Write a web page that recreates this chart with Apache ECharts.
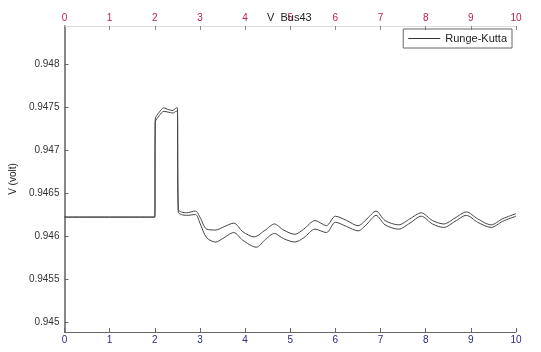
<!DOCTYPE html>
<html><head><meta charset="utf-8">
<script src="https://cdn.jsdelivr.net/npm/echarts@6/dist/echarts.min.js"></script>
<style>html,body{margin:0;padding:0;background:#fff}#c{width:541px;height:352px}</style>
</head><body><div id="c"></div>
<script>
const xTicks = [0,1,2,3,4,5,6,7,8,9,10];
const yTicks = [0.945,0.9455,0.946,0.9465,0.947,0.9475,0.948];
const upperX = [0,2.0,2.01,2.1,2.2,2.3,2.4,2.48,2.5,2.52,2.7,2.9,3.0,3.15,3.35,3.5,3.75,3.95,4.2,4.45,4.65,4.85,5.1,5.3,5.55,5.8,6.0,6.25,6.5,6.7,6.9,7.1,7.4,7.65,7.9,8.15,8.4,8.65,8.9,9.15,9.45,9.7,10];
const upperV = [0.94622,0.94622,0.94736,0.94744,0.94749,0.94747,0.94746,0.94749,0.94749,0.94631,0.94627,0.94629,0.94622,0.94608,0.94607,0.94610,0.94615,0.94605,0.94599,0.94607,0.94614,0.94607,0.94602,0.94608,0.94618,0.94612,0.94623,0.94618,0.94612,0.94620,0.94629,0.94618,0.94613,0.94620,0.94627,0.94618,0.94614,0.94621,0.94628,0.94620,0.94613,0.94620,0.94626];
const lowerX = [0,2.0,2.01,2.1,2.2,2.3,2.4,2.48,2.5,2.52,2.7,2.9,3.0,3.15,3.35,3.5,3.75,3.95,4.25,4.45,4.65,4.85,5.1,5.3,5.55,5.8,6.0,6.25,6.5,6.7,6.9,7.1,7.4,7.65,7.9,8.15,8.4,8.65,8.9,9.15,9.45,9.7,10];
const lowerV = [0.94622,0.94622,0.94732,0.94740,0.94745,0.94744,0.94743,0.94745,0.94745,0.94628,0.94624,0.94625,0.94615,0.94598,0.94593,0.94597,0.94604,0.94595,0.94587,0.94596,0.94603,0.94597,0.94593,0.94598,0.94608,0.94604,0.94616,0.94611,0.94606,0.94614,0.94624,0.94613,0.94608,0.94615,0.94623,0.94614,0.94610,0.94617,0.94624,0.94616,0.94610,0.94617,0.94623];
const legendName = 'Runge-Kutta';

const chart = echarts.init(document.getElementById('c'));
const fmt = v => String(+(+v).toFixed(4));
chart.setOption({
  animation:false,
  backgroundColor:'#fff',
  title:{text:'V  Bus43',left:262,top:7,textStyle:{fontSize:11,fontWeight:'normal',color:'#222',fontFamily:'Liberation Sans'}},
  legend:{show:true,data:[{name:legendName,icon:'rect',itemStyle:{color:'#333'}}],right:29,top:29,borderColor:'#666',borderWidth:1,padding:[4,5,4,5],itemWidth:32,itemHeight:1,
    textStyle:{fontSize:11,color:'#222',fontFamily:'Liberation Sans'}},
  grid:{left:64,right:25,top:26,bottom:20,containLabel:false},
  xAxis:[
    {type:'value',position:'bottom',min:0,max:10,interval:1,
     axisLine:{show:true,onZero:false,lineStyle:{color:'#666',width:1}},
     axisTick:{inside:true,length:4,lineStyle:{color:'#666'}},
     axisLabel:{color:'#2a2a8a',fontSize:10,margin:3,fontFamily:'Liberation Sans'},
     splitLine:{show:false}},
    {type:'value',position:'top',min:0,max:10,interval:1,
     axisLine:{show:true,onZero:false,lineStyle:{color:'#ddd',width:1}},
     axisTick:{inside:true,length:4,lineStyle:{color:'#888'}},
     axisLabel:{color:'#c0204a',fontSize:10,margin:3,fontFamily:'Liberation Sans'},
     splitLine:{show:false}}
  ],
  yAxis:{type:'value',min:0.944884,max:0.948442,
    name:'V (volt)',nameLocation:'middle',nameGap:45,nameRotate:90,
    nameTextStyle:{fontSize:10,color:'#222',fontFamily:'Liberation Sans'},
    axisLine:{show:true,onZero:false,lineStyle:{color:'#888',width:2}},
    axisTick:{inside:true,length:4,customValues:yTicks,lineStyle:{color:'#666'}},
    axisLabel:{customValues:yTicks,formatter:fmt,color:'#333',fontSize:10,margin:5,fontFamily:'Liberation Sans'},
    splitLine:{show:false}},
  series:[
    {name:legendName,type:'line',xAxisIndex:0,data:upperX.map((x,i)=>[x,upperV[i]]),showSymbol:false,smooth:0.3,
     lineStyle:{color:'#444',width:1},itemStyle:{color:'#444'}},
    {name:'lower',type:'line',xAxisIndex:0,data:lowerX.map((x,i)=>[x,lowerV[i]]),showSymbol:false,smooth:0.3,
     lineStyle:{color:'#444',width:1},itemStyle:{color:'#444'}}
  ]
});
</script></body></html>
